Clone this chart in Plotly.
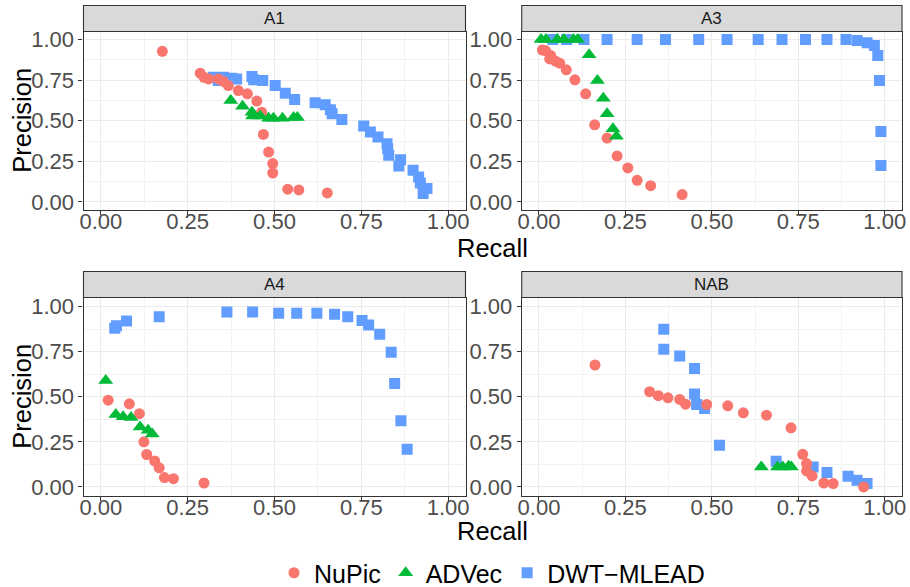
import plotly.graph_objects as go

# ---------------- data (Recall x, Precision y) ----------------
panels = ["A1", "A3", "A4", "NAB"]
methods = ["NuPic", "ADVec", "DWT\u2212MLEAD"]

# A1
a1_nupic_x = [0.177, 0.286, 0.297, 0.310, 0.338, 0.353, 0.367, 0.396, 0.422, 0.449, 0.463, 0.468, 0.483, 0.495, 0.495, 0.538, 0.570, 0.652]
a1_nupic_y = [0.928, 0.793, 0.768, 0.758, 0.758, 0.742, 0.717, 0.686, 0.666, 0.621, 0.553, 0.416, 0.307, 0.236, 0.178, 0.078, 0.074, 0.055]
a1_advec_x = [0.374, 0.408, 0.435, 0.437, 0.459, 0.483, 0.497, 0.523, 0.555, 0.566]
a1_advec_y = [0.625, 0.590, 0.553, 0.530, 0.530, 0.515, 0.515, 0.515, 0.520, 0.520]
a1_dwt_x = [0.324, 0.338, 0.353, 0.377, 0.391, 0.435, 0.440, 0.466, 0.502, 0.531, 0.558, 0.617, 0.646, 0.661, 0.666, 0.694, 0.757, 0.776, 0.798, 0.824, 0.826, 0.829, 0.863, 0.858, 0.899, 0.915, 0.920, 0.939, 0.928]
a1_dwt_y = [0.768, 0.748, 0.768, 0.762, 0.758, 0.773, 0.752, 0.748, 0.717, 0.670, 0.631, 0.611, 0.598, 0.568, 0.543, 0.508, 0.467, 0.430, 0.400, 0.359, 0.328, 0.287, 0.260, 0.221, 0.195, 0.154, 0.117, 0.082, 0.051]

# A3
a3_nupic_x = [0.010, 0.019, 0.034, 0.031, 0.048, 0.060, 0.079, 0.104, 0.135, 0.161, 0.197, 0.226, 0.257, 0.284, 0.323, 0.414]
a3_nupic_y = [0.936, 0.932, 0.902, 0.881, 0.867, 0.855, 0.814, 0.752, 0.666, 0.475, 0.393, 0.283, 0.209, 0.133, 0.100, 0.045]
a3_advec_x = [0.006, 0.020, 0.053, 0.072, 0.100, 0.112, 0.145, 0.169, 0.186, 0.197, 0.214, 0.224]
a3_advec_y = [1.000, 1.000, 1.000, 1.000, 1.000, 1.000, 0.906, 0.748, 0.639, 0.543, 0.451, 0.404]
a3_dwt_x = [0.040, 0.080, 0.130, 0.197, 0.284, 0.366, 0.462, 0.544, 0.634, 0.703, 0.771, 0.833, 0.888, 0.920, 0.949, 0.970, 0.980, 0.985, 0.989, 0.989]
a3_dwt_y = [1.000, 1.000, 1.000, 1.000, 1.000, 1.000, 1.000, 1.000, 1.000, 1.000, 1.000, 1.000, 1.000, 0.994, 0.980, 0.963, 0.902, 0.748, 0.434, 0.225]

# A4
a4_nupic_x = [0.021, 0.082, 0.111, 0.124, 0.132, 0.155, 0.168, 0.183, 0.209, 0.297]
a4_nupic_y = [0.481, 0.461, 0.406, 0.250, 0.180, 0.144, 0.106, 0.052, 0.046, 0.022]
a4_advec_x = [0.014, 0.043, 0.064, 0.087, 0.113, 0.136, 0.148]
a4_advec_y = [0.590, 0.402, 0.389, 0.385, 0.333, 0.315, 0.293]
a4_dwt_x = [0.040, 0.045, 0.074, 0.168, 0.363, 0.437, 0.512, 0.564, 0.622, 0.673, 0.711, 0.752, 0.771, 0.803, 0.836, 0.846, 0.864, 0.882]
a4_dwt_y = [0.880, 0.894, 0.920, 0.944, 0.969, 0.969, 0.963, 0.963, 0.963, 0.957, 0.944, 0.922, 0.898, 0.846, 0.746, 0.574, 0.367, 0.209]

# NAB
nab_nupic_x = [0.162, 0.320, 0.345, 0.373, 0.407, 0.424, 0.485, 0.546, 0.591, 0.658, 0.729, 0.763, 0.774, 0.774, 0.790, 0.824, 0.851, 0.939]
nab_nupic_y = [0.676, 0.528, 0.506, 0.494, 0.485, 0.459, 0.457, 0.450, 0.411, 0.398, 0.328, 0.181, 0.130, 0.089, 0.061, 0.022, 0.019, 0.000]
nab_advec_x = [0.643, 0.690, 0.705, 0.722, 0.730]
nab_advec_y = [0.111, 0.111, 0.111, 0.115, 0.111]
nab_dwt_x = [0.361, 0.361, 0.407, 0.450, 0.450, 0.456, 0.479, 0.522, 0.686, 0.793, 0.833, 0.894, 0.920, 0.949]
nab_dwt_y = [0.874, 0.763, 0.726, 0.657, 0.515, 0.457, 0.435, 0.231, 0.143, 0.111, 0.080, 0.059, 0.037, 0.019]

data = {
    "A1": {"NuPic": (a1_nupic_x, a1_nupic_y), "ADVec": (a1_advec_x, a1_advec_y), "DWT\u2212MLEAD": (a1_dwt_x, a1_dwt_y)},
    "A3": {"NuPic": (a3_nupic_x, a3_nupic_y), "ADVec": (a3_advec_x, a3_advec_y), "DWT\u2212MLEAD": (a3_dwt_x, a3_dwt_y)},
    "A4": {"NuPic": (a4_nupic_x, a4_nupic_y), "ADVec": (a4_advec_x, a4_advec_y), "DWT\u2212MLEAD": (a4_dwt_x, a4_dwt_y)},
    "NAB": {"NuPic": (nab_nupic_x, nab_nupic_y), "ADVec": (nab_advec_x, nab_advec_y), "DWT\u2212MLEAD": (nab_dwt_x, nab_dwt_y)},
}

tick_vals = [0, 0.25, 0.5, 0.75, 1.0]
tick_text = ["0.00", "0.25", "0.50", "0.75", "1.00"]

# ---------------- styling ----------------
W, H = 910, 587
colors = {"NuPic": "#F8766D", "ADVec": "#00BA38", "DWT\u2212MLEAD": "#619CFF"}
symbols = {"NuPic": "circle", "ADVec": "triangle-up", "DWT\u2212MLEAD": "square"}
sizes = {"NuPic": 11, "ADVec": 13, "DWT\u2212MLEAD": 11}
rank = {"NuPic": 1, "ADVec": 2, "DWT\u2212MLEAD": 3}
draw_order = ["DWT\u2212MLEAD", "NuPic", "ADVec"]

# panel pixel boxes (left, right, top, bottom)
col_px = [(83.5, 465.5), (521.7, 902.0)]
row_px = [(31.5, 210.0), (297.5, 496.0)]
strip_h = 26.0
FONT = "Liberation Sans, Arial, sans-serif"

fig = go.Figure()

for i, p in enumerate(panels):
    r, c = divmod(i, 2)
    ax = "" if i == 0 else str(i + 1)
    for m in draw_order:
        xs, ys = data[p][m]
        fig.add_trace(go.Scatter(
            x=xs, y=ys, mode="markers", name=m,
            xaxis="x" + ax, yaxis="y" + ax,
            marker=dict(color=colors[m], symbol=symbols[m], size=sizes[m], line=dict(width=0)),
            legendgroup=m, showlegend=(i == 0), legendrank=rank[m],
        ))
    l, rr = col_px[c]
    t, b = row_px[r]
    common = dict(
        range=[-0.05, 1.05], tickvals=tick_vals, ticktext=tick_text,
        showgrid=True, gridcolor="#EBEBEB", gridwidth=1.1,
        minor=dict(tickvals=[0.125, 0.375, 0.625, 0.875], showgrid=True, gridcolor="#F2F2F2", gridwidth=0.6, ticklen=0),
        showline=True, linecolor="#333333", linewidth=1.1, mirror=True,
        ticks="outside", ticklen=4, tickcolor="#333333", tickwidth=1.1,
        tickfont=dict(family=FONT, size=22, color="#4D4D4D"),
        zeroline=False, fixedrange=True, automargin=False,
    )
    fig.layout["xaxis" + ax] = dict(common, domain=[l / W, rr / W], anchor="y" + ax, ticklabelstandoff=-12)
    fig.layout["yaxis" + ax] = dict(common, domain=[1 - b / H, 1 - t / H], anchor="x" + ax)
    # strip
    fig.add_shape(type="rect", xref="paper", yref="paper",
                  x0=l / W, x1=rr / W, y0=1 - t / H, y1=1 - (t - strip_h) / H,
                  fillcolor="#D9D9D9", line=dict(color="#333333", width=1.1), layer="above")
    fig.add_annotation(text=p, xref="paper", yref="paper", x=(l + rr) / 2 / W, y=1 - (t - strip_h / 2) / H,
                       showarrow=False, xanchor="center", yanchor="middle",
                       font=dict(family=FONT, size=17, color="#1A1A1A"))

# axis titles for each row
for r, (t, b) in enumerate(row_px):
    fig.add_annotation(text="Precision", xref="paper", yref="paper", x=22 / W, y=1 - (t + b) / 2 / H,
                       textangle=-90, showarrow=False, xanchor="center", yanchor="middle",
                       font=dict(family=FONT, size=25.5, color="#000000"))
    ycen = 248 if r == 0 else 531
    fig.add_annotation(text="Recall", xref="paper", yref="paper", x=(83.5 + 902) / 2 / W, y=1 - ycen / H,
                       showarrow=False, xanchor="center", yanchor="middle",
                       font=dict(family=FONT, size=25.5, color="#000000"))

fig.update_layout(
    width=W, height=H,
    margin=dict(l=0, r=0, t=0, b=0, autoexpand=False),
    paper_bgcolor="white", plot_bgcolor="white",
    showlegend=True,
    legend=dict(orientation="h", x=492 / W, xanchor="center", y=1 - 573 / H, yanchor="middle",
                font=dict(family=FONT, size=25, color="#000000"),
                itemsizing="trace", traceorder="normal", bgcolor="rgba(0,0,0,0)",
                itemwidth=30, tracegroupgap=0),
)

fig.write_html("out.html", config={"displayModeBar": False},
               post_script="document.body.style.margin='0px';document.body.style.overflow='hidden';")
